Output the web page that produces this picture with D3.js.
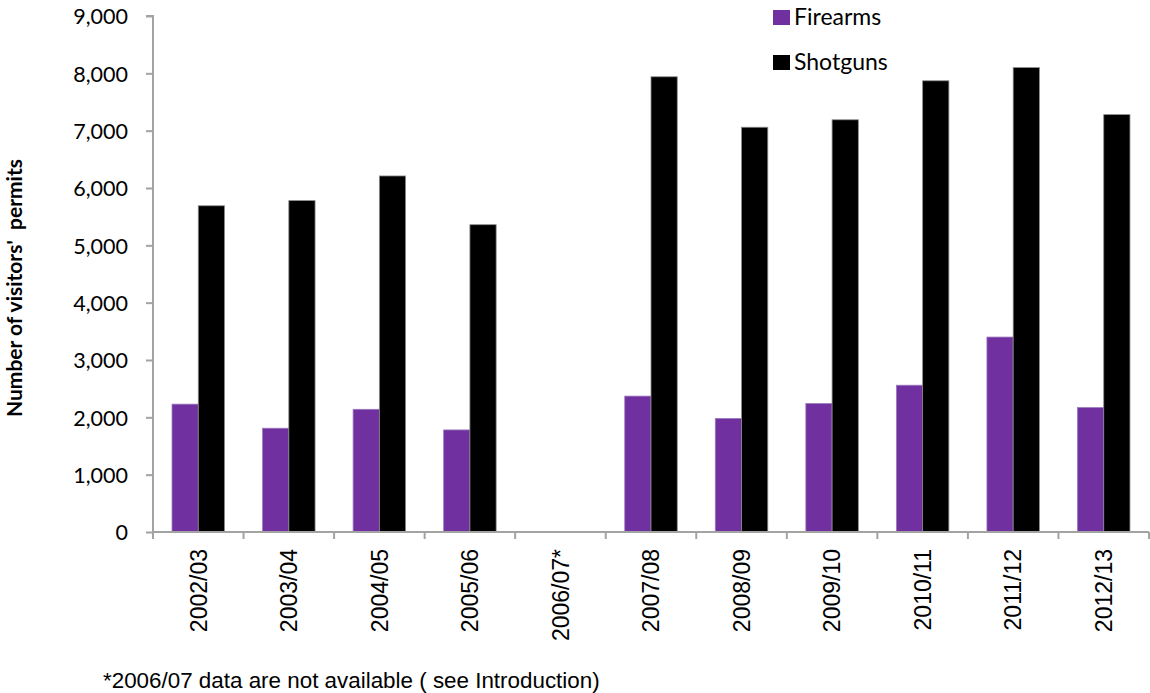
<!DOCTYPE html>
<html>
<head>
<meta charset="utf-8">
<script src="https://cdn.jsdelivr.net/npm/d3@7/dist/d3.min.js"></script>
<style>
  html, body { margin: 0; padding: 0; background: #fff; }
  svg { display: block; }
</style>
</head>
<body>
<svg id="chart" width="1150" height="693"></svg>
<script>
// Visitors' permits by year (2006/07 not available)
const categories = ["2002/03", "2003/04", "2004/05", "2005/06", "2006/07*", "2007/08",
                    "2008/09", "2009/10", "2010/11", "2011/12", "2012/13"];
const seriesNames = ["Firearms", "Shotguns"];
const firearms = [2230, 1810, 2140, 1780, null, 2370, 1980, 2240, 2560, 3400, 2170];
const shotguns = [5690, 5780, 6210, 5360, null, 7940, 7060, 7190, 7870, 8100, 7280];
const yTicks = [0, 1000, 2000, 3000, 4000, 5000, 6000, 7000, 8000, 9000];
const colors = ["#7030A0", "#000000"];
const yTitle = "Number of visitors'  permits";
const footnote = "*2006/07 data are not available ( see Introduction)";

const svg = d3.select("#chart");
const plotLeft = 153, plotRight = 1149, plotTop = 16, plotBottom = 532;
const axisColor = "#a3a3a3";
const calibriLike = "Lato, 'Open Sans', sans-serif";
const arialLike = "'Liberation Sans', Arial, sans-serif";

const x = d3.scaleBand().domain(categories).range([plotLeft, plotRight]).padding(0);
const x1 = d3.scaleBand().domain(seriesNames).range([0, x.bandwidth()])
  .paddingInner(0).paddingOuter(0.725);
const y = d3.scaleLinear().domain([0, 9000]).range([plotBottom, plotTop]);

const rows = categories.map((c, i) => ({ cat: c, values: [firearms[i], shotguns[i]] }));

// bars
const groups = svg.append("g").selectAll("g").data(rows).join("g")
  .attr("transform", d => `translate(${x(d.cat)},0)`);
groups.selectAll("rect")
  .data(d => d.values.map((v, k) => ({ key: seriesNames[k], v, k })).filter(e => e.v != null))
  .join("rect")
  .attr("x", e => x1(e.key))
  .attr("y", e => y(e.v))
  .attr("width", x1.bandwidth())
  .attr("height", e => y(0) - y(e.v))
  .attr("fill", e => colors[e.k])
  .attr("stroke", e => e.k === 0 ? "#9a78bd" : "#8c8c8c")
  .attr("stroke-width", 0.8);

// y axis
const yAxis = svg.append("g").attr("transform", `translate(${plotLeft},0)`)
  .call(d3.axisLeft(y).tickValues(yTicks).tickFormat(d3.format(",")).tickSize(7).tickPadding(18));
yAxis.select(".domain").attr("stroke", axisColor).attr("stroke-width", 2)
  .attr("d", `M-7,${y(9000)}H0V${y(0)}`);
yAxis.selectAll(".tick line").attr("stroke", axisColor).attr("stroke-width", 2);
yAxis.selectAll(".tick text").attr("fill", "#000")
  .style("font-family", calibriLike).style("font-size", "21.5px").attr("dy", "0.36em");

// x axis: labels centred in bands, tick marks on band edges
const xAxis = svg.append("g").attr("transform", `translate(0,${plotBottom})`)
  .call(d3.axisBottom(x).tickSize(0).tickPadding(0));
xAxis.select(".domain").remove();
xAxis.selectAll(".tick text")
  .attr("transform", "rotate(-90)")
  .attr("x", -17).attr("y", 0).attr("dy", "0.36em")
  .style("text-anchor", "end")
  .attr("fill", "#000")
  .style("font-family", arialLike).style("font-size", "23px");
const edges = categories.map(c => x(c)).concat([x.range()[1]]);
svg.append("line").attr("x1", plotLeft).attr("x2", plotRight).attr("y1", plotBottom).attr("y2", plotBottom)
  .attr("stroke", axisColor).attr("stroke-width", 2);
svg.append("g").selectAll("line").data(edges).join("line")
  .attr("x1", d => d).attr("x2", d => d)
  .attr("y1", plotBottom).attr("y2", plotBottom + 7)
  .attr("stroke", axisColor).attr("stroke-width", 2);

// y axis title
svg.append("text")
  .attr("transform", `translate(22,${288}) rotate(-90)`)
  .attr("text-anchor", "middle")
  .style("font-family", calibriLike).style("font-size", "21px").style("font-weight", "bold")
  .style("white-space", "pre")
  .text(yTitle);

// legend
const legend = svg.append("g").attr("transform", "translate(773,10)");
const items = legend.selectAll("g").data(seriesNames).join("g")
  .attr("transform", (d, i) => `translate(0,${i * 45})`);
items.append("rect").attr("width", 17).attr("height", 15).attr("fill", (d, i) => colors[i]);
items.append("text").attr("x", 21).attr("y", 15)
  .style("font-family", calibriLike).style("font-size", "23px").text(d => d);

// footnote
svg.append("text").attr("x", 103).attr("y", 688)
  .style("font-family", arialLike).style("font-size", "22.4px")
  .text(footnote);
</script>
</body>
</html>
